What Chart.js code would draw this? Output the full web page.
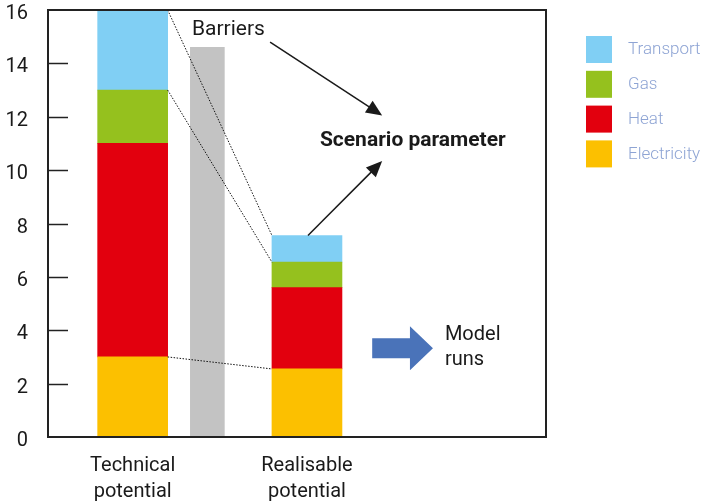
<!DOCTYPE html>
<html>
<head>
<meta charset="utf-8">
<script src="https://cdn.jsdelivr.net/npm/chart.js@4.4.1/dist/chart.umd.min.js"></script>
<style>
html, body { margin: 0; padding: 0; background: #fff; }
#wrap { width: 715px; height: 501px; }
</style>
</head>
<body>
<div id="wrap"><canvas id="Chart"></canvas></div>
<script>
// data
let categories = [['Technical', 'potential'], ['Realisable', 'potential']];
let catPos = [1.7, 5.2];
let electricity = [3, 2.55];
let heat = [8, 3.05];
let gas = [2, 0.95];
let transport = [3, 1.0];
let barrierPos = [3.2];
let barrier = [14.6];
let yMax = 16;
let yStep = 2;

const FONT = 'Roboto, "Noto Sans", sans-serif';
const INK = '#1a1a1a';

function pts(values) {
    return values.map((v, i) => ({ x: catPos[i], y: v }));
}

// annotations, in data units of the two scales
let notes = {
    barriers: { x: 2.89, y: 15.25, text: 'Barriers' },
    scenario: { x: 5.46, y: 11.1, text: 'Scenario parameter' },
    arrows: [
        { from: [4.46, 14.8], to: [6.71, 12.05] },
        { from: [5.22, 7.55], to: [6.71, 10.34] }
    ],
    model: { x: 6.51, y: 3.33, tip: 7.73, text: ['Model', 'runs'], tx: 7.97 }
};

function arrow(ctx, x1, y1, x2, y2) {
    const a = Math.atan2(y2 - y1, x2 - x1);
    const len = 16, half = 7;
    ctx.beginPath();
    ctx.moveTo(x1, y1);
    ctx.lineTo(x2 - Math.cos(a) * len * 0.8, y2 - Math.sin(a) * len * 0.8);
    ctx.stroke();
    ctx.beginPath();
    ctx.moveTo(x2, y2);
    ctx.lineTo(x2 - Math.cos(a) * len + Math.sin(a) * half, y2 - Math.sin(a) * len - Math.cos(a) * half);
    ctx.lineTo(x2 - Math.cos(a) * len - Math.sin(a) * half, y2 - Math.sin(a) * len + Math.cos(a) * half);
    ctx.closePath();
    ctx.fill();
}

const extras = {
    id: 'extras',
    afterDatasetsDraw(chart) {
        const ctx = chart.ctx;
        const { left, right, top, bottom } = chart.chartArea;
        const xs = chart.scales.x, ys = chart.scales.y;
        const X = v => xs.getPixelForValue(v), Y = v => ys.getPixelForValue(v);
        ctx.save();

        // dotted connectors between the two stacks
        ctx.strokeStyle = '#111';
        ctx.lineWidth = 1;
        ctx.setLineDash([1.5, 1.5]);
        [0, 2, 3].forEach(ds => {
            const meta = chart.getDatasetMeta(ds);
            const a = meta.data[0], b = meta.data[1];
            ctx.beginPath();
            ctx.moveTo(a.x + a.width / 2, a.y);
            ctx.lineTo(b.x - b.width / 2, b.y);
            ctx.stroke();
        });
        ctx.setLineDash([]);

        // frame
        ctx.strokeStyle = '#222';
        ctx.lineWidth = 2;
        ctx.strokeRect(left, top, right - left, bottom - top);

        // inner ticks
        ctx.lineWidth = 1.5;
        ys.ticks.forEach(t => {
            if (t.value <= 0 || t.value >= yMax) return;
            const y = Math.round(Y(t.value)) + 0.5;
            ctx.beginPath();
            ctx.moveTo(left, y);
            ctx.lineTo(left + 20, y);
            ctx.stroke();
        });

        // texts and arrows
        ctx.fillStyle = INK;
        ctx.strokeStyle = INK;
        ctx.textBaseline = 'middle';
        ctx.textAlign = 'left';
        ctx.font = '21px ' + FONT;
        ctx.fillText(notes.barriers.text, X(notes.barriers.x), Y(notes.barriers.y));
        ctx.font = 'bold 21px ' + FONT;
        ctx.fillText(notes.scenario.text, X(notes.scenario.x), Y(notes.scenario.y));
        ctx.lineWidth = 1.5;
        notes.arrows.forEach(a => arrow(ctx, X(a.from[0]), Y(a.from[1]), X(a.to[0]), Y(a.to[1])));

        // block arrow
        const m = notes.model;
        const bx = X(m.x), by = Y(m.y), tip = X(m.tip);
        const headX = tip - 23;
        ctx.fillStyle = '#4a73b9';
        ctx.beginPath();
        ctx.moveTo(bx, by - 10);
        ctx.lineTo(headX, by - 10);
        ctx.lineTo(headX, by - 22);
        ctx.lineTo(tip, by);
        ctx.lineTo(headX, by + 22);
        ctx.lineTo(headX, by + 10);
        ctx.lineTo(bx, by + 10);
        ctx.closePath();
        ctx.fill();
        ctx.fillStyle = INK;
        ctx.font = '20px ' + FONT;
        ctx.fillText(m.text[0], X(m.tx), by - 13);
        ctx.fillText(m.text[1], X(m.tx), by + 12);

        // legend, top item first
        const items = chart.data.datasets.filter(d => d.inLegend).reverse();
        ctx.font = '300 17px ' + FONT;
        items.forEach((d, i) => {
            const y0 = 36 + i * 34.8;
            ctx.fillStyle = d.backgroundColor;
            ctx.fillRect(586, y0, 26, 27);
            ctx.fillStyle = '#8ea4d4';
            ctx.fillText(d.label, 628, y0 + 14);
        });
        ctx.restore();
    }
};

const stackOpts = { stack: 'pot', inLegend: true, grouped: false, barPercentage: 1, categoryPercentage: 1, maxBarThickness: 70 };

new Chart(document.getElementById('Chart'), {
    type: 'bar',
    data: {
        datasets: [
            Object.assign({ label: 'Electricity', data: pts(electricity), backgroundColor: '#fcc000' }, stackOpts),
            Object.assign({ label: 'Heat', data: pts(heat), backgroundColor: '#e2000e' }, stackOpts),
            Object.assign({ label: 'Gas', data: pts(gas), backgroundColor: '#95c11e' }, stackOpts),
            Object.assign({ label: 'Transport', data: pts(transport), backgroundColor: '#80cff4' }, stackOpts),
            {
                label: 'Barriers', data: barrier.map((v, i) => ({ x: barrierPos[i], y: v })),
                backgroundColor: '#c3c3c3', stack: 'bar', grouped: false,
                barPercentage: 1, categoryPercentage: 1, maxBarThickness: 34
            }
        ]
    },
    options: {
        responsive: true,
        maintainAspectRatio: false,
        animation: false,
        events: [],
        layout: { padding: { top: 10, right: 169, left: 0, bottom: 0 } },
        plugins: { legend: { display: false }, tooltip: { enabled: false } },
        scales: {
            x: {
                type: 'linear',
                min: 0,
                max: 10,
                offset: false,
                stacked: true,
                grid: { display: false, offset: false },
                border: { display: false },
                afterBuildTicks: axis => { axis.ticks = catPos.map(v => ({ value: v })); },
                afterFit: axis => { axis.height = 64; axis.paddingLeft = 0; axis.paddingRight = 0; },
                ticks: {
                    callback: (value, index) => categories[index],
                    font: { family: FONT, size: 20, lineHeight: 1.3 },
                    color: INK,
                    padding: 8,
                    maxRotation: 0,
                    autoSkip: false
                }
            },
            y: {
                min: 0,
                max: yMax,
                stacked: true,
                grid: { display: false },
                border: { display: false },
                afterFit: axis => { axis.width = 48; axis.paddingTop = 0; axis.paddingBottom = 0; },
                ticks: {
                    stepSize: yStep,
                    font: { family: FONT, size: 20 },
                    color: INK,
                    padding: 12,
                    labelOffset: 4
                }
            }
        }
    },
    plugins: [extras]
});
</script>
</body>
</html>
